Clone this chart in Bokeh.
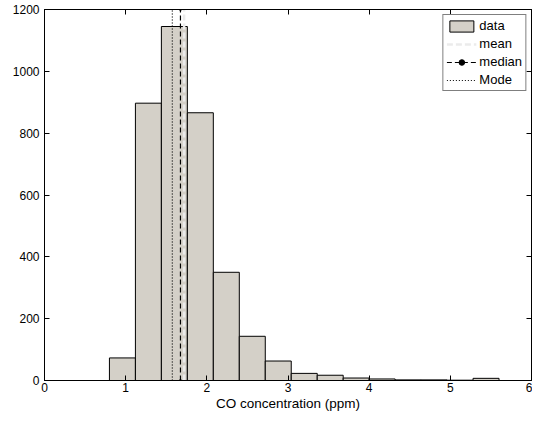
from bokeh.plotting import figure
from bokeh.models import Range1d, LinearAxis, Legend, LegendItem, FixedTicker
from bokeh.embed import file_html
from bokeh.resources import INLINE

# ---- data ----
bin_edges = [0.80, 1.12, 1.44, 1.76, 2.08, 2.40, 2.72, 3.04, 3.36, 3.68,
             4.00, 4.32, 4.64, 4.96, 5.28, 5.60]
counts = [73, 897, 1145, 866, 350, 143, 63, 23, 17, 8, 5, 2, 2, 1, 7]
mean_val = 1.72
median_val = 1.675
mode_val = 1.575
x_ticks = [0, 1, 2, 3, 4, 5, 6]
y_ticks = [0, 200, 400, 600, 800, 1000, 1200]
x_label = "CO concentration (ppm)"

FONT = "Liberation Sans"
y_top = y_ticks[-1]

p = figure(width=532, height=413,
           x_range=Range1d(x_ticks[0], x_ticks[-1]),
           y_range=Range1d(y_ticks[0], y_top),
           output_backend="svg", toolbar_location=None,
           min_border_left=44, min_border_right=1,
           min_border_top=9, min_border_bottom=31)

p.background_fill_color = "white"
p.border_fill_color = "white"
p.outline_line_color = "black"
p.outline_line_width = 1
p.xgrid.visible = False
p.ygrid.visible = False

bars = p.quad(left=bin_edges[:-1], right=bin_edges[1:], bottom=0, top=counts,
              fill_color="#d4d0c8", line_color="black", line_width=1)

mean_r = p.segment(x0=[mean_val], y0=[0], x1=[mean_val], y1=[y_top],
                   line_color="#ebebeb", line_width=2.5, line_dash="6 3")
median_r = p.segment(x0=[median_val], y0=[0], x1=[median_val], y1=[y_top],
                     line_color="black", line_width=1.2, line_dash="5 3")
median_pt = p.scatter(x=[median_val, median_val], y=[0, y_top], size=2,
                      color="black")
mode_r = p.segment(x0=[mode_val], y0=[0], x1=[mode_val], y1=[y_top],
                   line_color="black", line_width=1.2, line_dash="1 2")

for ax in (p.xaxis[0], p.yaxis[0]):
    ax.major_label_text_font = FONT
    ax.major_label_text_font_size = "12px"
    ax.major_label_text_color = "black"
    ax.axis_line_color = "black"
    ax.major_tick_line_color = "black"
    ax.major_tick_in = 5
    ax.major_tick_out = 0
    ax.minor_tick_line_color = None

p.xaxis[0].ticker = FixedTicker(ticks=x_ticks)
p.yaxis[0].ticker = FixedTicker(ticks=y_ticks)
p.xaxis[0].major_label_standoff = 2
p.yaxis[0].major_label_standoff = 5
p.xaxis[0].axis_label = x_label
p.xaxis[0].axis_label_text_font = FONT
p.xaxis[0].axis_label_text_font_size = "13.5px"
p.xaxis[0].axis_label_text_font_style = "normal"
p.xaxis[0].axis_label_text_color = "black"
p.xaxis[0].axis_label_standoff = 1

top_ax = LinearAxis(ticker=FixedTicker(ticks=x_ticks),
                    major_label_overrides={t: "" for t in x_ticks})
right_ax = LinearAxis(ticker=FixedTicker(ticks=y_ticks),
                      major_label_overrides={t: "" for t in y_ticks})
for ax in (top_ax, right_ax):
    ax.major_label_standoff = 0
    ax.major_tick_in = 5
    ax.major_tick_out = 0
    ax.minor_tick_line_color = None
    ax.axis_line_color = "black"
    ax.major_tick_line_color = "black"
p.add_layout(top_ax, "above")
p.add_layout(right_ax, "right")

legend = Legend(items=[
    LegendItem(label="data", renderers=[bars]),
    LegendItem(label="mean", renderers=[mean_r]),
    LegendItem(label="median", renderers=[median_r, median_pt]),
    LegendItem(label="Mode", renderers=[mode_r]),
], location="top_right")
legend.label_text_font = FONT
legend.label_text_font_size = "13px"
legend.label_text_color = "black"
legend.border_line_color = "black"
legend.border_line_width = 1
legend.background_fill_color = "white"
legend.background_fill_alpha = 1
legend.glyph_width = 30
legend.glyph_height = 14
legend.label_height = 14
legend.label_standoff = 3
legend.spacing = 3
legend.padding = 3
legend.margin = 5
p.add_layout(legend, "center")

open("out.html", "w").write(file_html(p, INLINE))
